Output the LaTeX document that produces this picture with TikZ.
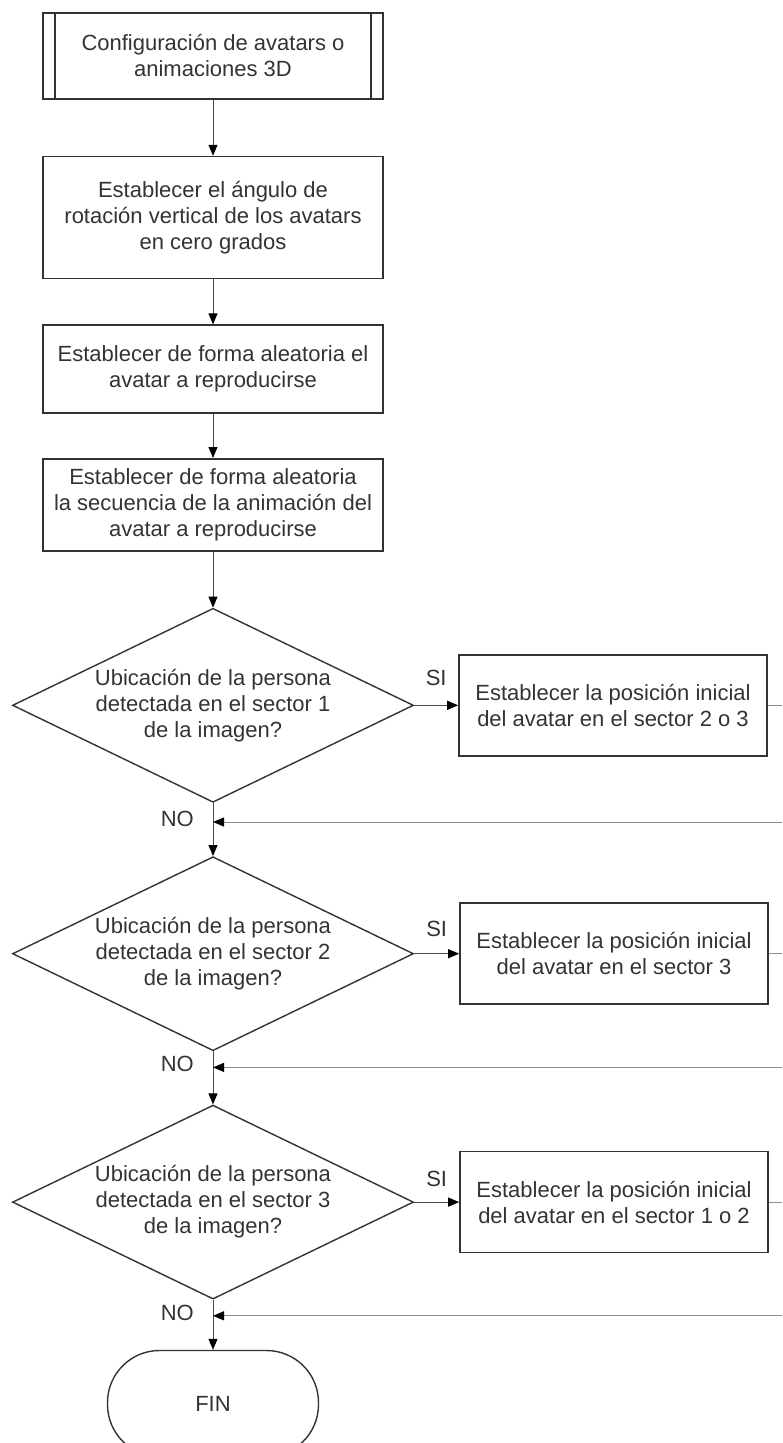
\documentclass[tikz,border=0pt]{standalone}
\usepackage{fontspec}
\setmainfont{Liberation Sans}
\usetikzlibrary{positioning, arrows.meta, shapes.geometric, calc}

\definecolor{edge}{HTML}{333333}
\definecolor{wire}{HTML}{4A4A4A}
\definecolor{loopback}{HTML}{8C8C8C}

\begin{document}
\begin{tikzpicture}[x=1pt, y=-1pt,
  every node/.style={font=\fontsize{22}{26}\selectfont, text=black!80},
  proc/.style={draw=edge, line width=1.6pt, rectangle, align=center, minimum width=340pt, inner sep=0pt},
  setbox/.style={draw=edge, line width=1.6pt, rectangle, align=center, minimum width=308pt, minimum height=101pt, inner sep=0pt},
  decision/.style={draw=edge, line width=1.4pt, diamond, aspect=2.07, inner sep=0pt, align=center, minimum width=401pt, minimum height=194pt},
  term/.style={draw=edge, line width=1.4pt, rectangle, rounded corners=52pt, minimum width=211pt, minimum height=106pt},
  lbl/.style={inner sep=0pt},
  arrow/.style={-{Triangle[length=11pt, width=9pt, color=black]}, line width=1pt, draw=wire},
  back/.style={-{Triangle[length=11pt, width=9pt, color=black]}, line width=1pt, draw=loopback}
]
  \useasboundingbox (0,0) rectangle (782,1443);
  \clip (0,0) rectangle (782,1443);

  % main column
  \node[proc, minimum height=86pt] (cfg) at (213,56) {Configuración de avatars o\\animaciones 3D};
  \draw[draw=edge, line width=1.6pt] ([xshift=13pt]cfg.north west) -- ([xshift=13pt]cfg.south west);
  \draw[draw=edge, line width=1.6pt] ([xshift=-13pt]cfg.north east) -- ([xshift=-13pt]cfg.south east);

  \node[proc, minimum height=122pt, below=56pt of cfg] (rot) {Establecer el ángulo de\\rotación vertical de los avatars\\en cero grados};
  \node[proc, minimum height=88pt, below=45pt of rot] (alea) {Establecer de forma aleatoria el\\avatar a reproducirse};
  \node[proc, minimum height=92pt, below=44pt of alea] (secu) {Establecer de forma aleatoria\\la secuencia de la animación del\\avatar a reproducirse};

  \node[decision, below=56pt of secu] (dec1) {Ubicación de la persona\\detectada en el sector 1\\de la imagen?};
  \node[decision, below=53pt of dec1] (dec2) {Ubicación de la persona\\detectada en el sector 2\\de la imagen?};
  \node[decision, below=53pt of dec2] (dec3) {Ubicación de la persona\\detectada en el sector 3\\de la imagen?};
  \node[term, below=50pt of dec3] (fin) {FIN};

  % start positions on the right
  \node[setbox, right=44pt of dec1] (pos1) {Establecer la posición inicial\\del avatar en el sector 2 o 3};
  \node[setbox, right=45pt of dec2] (pos2) {Establecer la posición inicial\\del avatar en el sector 3};
  \node[setbox, right=45pt of dec3] (pos3) {Establecer la posición inicial\\del avatar en el sector 1 o 2};

  % merge points under each decision
  \coordinate[below=19pt of dec1] (ret1);
  \coordinate[below=16pt of dec2] (ret2);
  \coordinate[below=16pt of dec3] (ret3);

  \draw[arrow] (cfg) -- (rot);
  \draw[arrow] (rot) -- (alea);
  \draw[arrow] (alea) -- (secu);
  \draw[arrow] (secu) -- (dec1);
  \draw[arrow] (dec1) -- (dec2);
  \draw[arrow] (dec2) -- (dec3);
  \draw[arrow] (dec3) -- (fin);

  \draw[arrow] (dec1) -- node[lbl, yshift=27pt] (si1) {SI} (pos1);
  \draw[arrow] (dec2) -- node[lbl, yshift=25pt] (si2) {SI} (pos2);
  \draw[arrow] (dec3) -- node[lbl, yshift=23pt] (si3) {SI} (pos3);

  \draw[back] (pos1.east) -- ++(40,0) |- (ret1);
  \draw[back] (pos2.east) -- ++(40,0) |- (ret2);
  \draw[back] (pos3.east) -- ++(40,0) |- (ret3);

  \node[lbl, left=19pt of ret1, yshift=3pt] (no1) {NO};
  \node[lbl, left=19pt of ret2, yshift=3pt] (no2) {NO};
  \node[lbl, left=19pt of ret3, yshift=3pt] (no3) {NO};
\end{tikzpicture}
\end{document}
